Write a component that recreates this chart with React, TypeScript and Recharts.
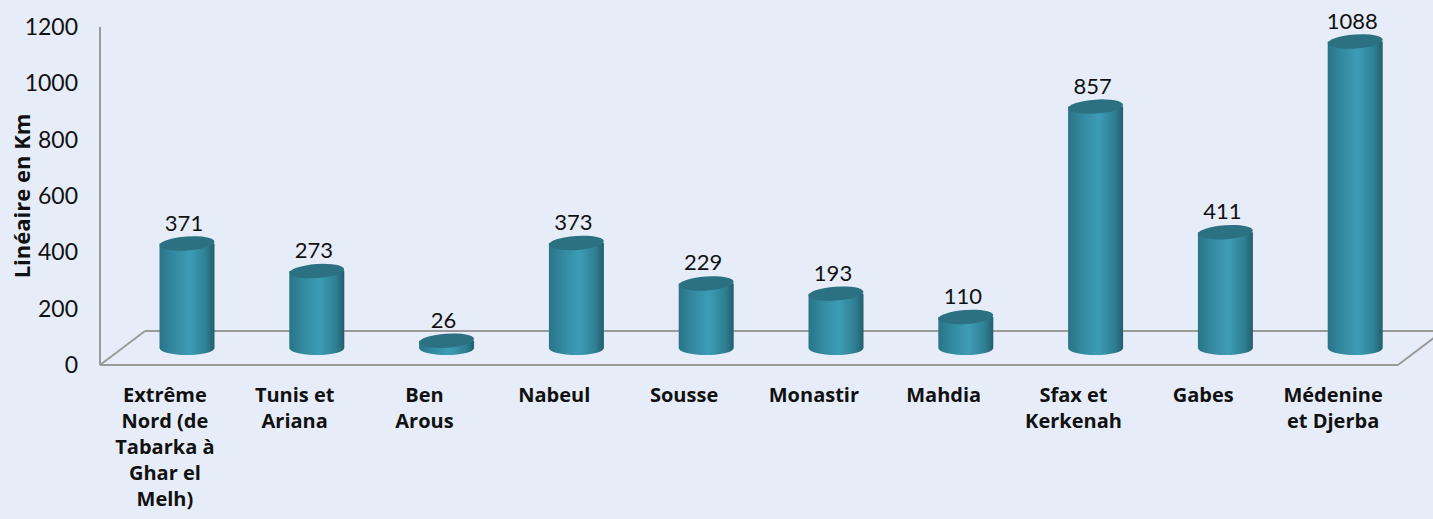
import { BarChart, Bar, XAxis, YAxis, LabelList } from "recharts";

const categories = [
  "Extrême\nNord (de\nTabarka à\nGhar el\nMelh)",
  "Tunis et\nAriana",
  "Ben\nArous",
  "Nabeul",
  "Sousse",
  "Monastir",
  "Mahdia",
  "Sfax et\nKerkenah",
  "Gabes",
  "Médenine\net Djerba",
];
const lineaire = [371, 273, 26, 373, 229, 193, 110, 857, 411, 1088];
const yTicks = [0, 200, 400, 600, 800, 1000, 1200];

const data = categories.map((name, i) => ({ name, value: lineaire[i] }));

const W = 1433;
const H = 519;
const M = { top: 27, right: 35, left: 0, bottom: 4 };
const Y_W = 100;
const X_H = 150;
const PLOT_L = M.left + Y_W;
const PLOT_R = W - M.right;
const PLOT_B = H - M.bottom - X_H;
const DEPTH_X = 45;
const DEPTH_Y = 34;
const FONT = "Lato, 'Open Sans', sans-serif";
const BOLD_FONT = "'Open Sans', Lato, sans-serif";

// bars stand halfway into the floor
const SHIFT_X = DEPTH_X / 2;
const SHIFT_Y = DEPTH_Y / 2;

function Cylinder(props: any) {
  const { x, y, width, height, index } = props;
  const rx = width / 2;
  const ry = 7;
  const cx = x + rx + SHIFT_X;
  const top = y - SHIFT_Y;
  const base = y + height - SHIFT_Y;
  const l = cx - rx;
  const r = cx + rx;
  const id = `cyl-${index}`;
  return (
    <g>
      <defs>
        <linearGradient id={id} x1="0" x2="1" y1="0" y2="0">
          <stop offset="0%" stopColor="#2a7487" />
          <stop offset="25%" stopColor="#3289a0" />
          <stop offset="55%" stopColor="#3d9db6" />
          <stop offset="85%" stopColor="#2e7e92" />
          <stop offset="100%" stopColor="#235e6d" />
        </linearGradient>
      </defs>
      <path
        d={`M${l},${top} L${l},${base} A${rx},${ry} 0 0 0 ${r},${base} L${r},${top} Z`}
        fill={`url(#${id})`}
      />
      <ellipse cx={cx} cy={top} rx={rx} ry={ry} fill="#2b7182" transform={`rotate(-4 ${cx} ${top})`} />
    </g>
  );
}

function ValueLabel(props: any) {
  const { x, y, width, value } = props;
  return (
    <text
      x={x + width / 2 + SHIFT_X - 3}
      y={y - SHIFT_Y - 13}
      textAnchor="middle"
      fontFamily={FONT}
      fontSize={22}
      fill="#111"
    >
      {value}
    </text>
  );
}

function CategoryTick(props: any) {
  const { x, y, payload } = props;
  const lines = String(payload.value).split("\n");
  return (
    <text x={x} y={y} textAnchor="middle" fontFamily={BOLD_FONT} fontSize={20} fontWeight="bold" fill="#111">
      {lines.map((t, i) => (
        <tspan key={i} x={x} dy={i === 0 ? 0 : 26}>
          {t}
        </tspan>
      ))}
    </text>
  );
}

function Floor() {
  const backY = PLOT_B - DEPTH_Y;
  return (
    <svg width={W} height={H} style={{ position: "absolute", left: 0, top: 0 }}>
      <g stroke="#9a9a9a" strokeWidth={2} fill="none">
        <line x1={PLOT_L} y1={M.top} x2={PLOT_L} y2={PLOT_B} />
        <line x1={PLOT_L} y1={PLOT_B} x2={PLOT_R} y2={PLOT_B} />
        <line x1={PLOT_L} y1={PLOT_B} x2={PLOT_L + DEPTH_X} y2={backY} />
        <line x1={PLOT_L + DEPTH_X} y1={backY} x2={PLOT_R + DEPTH_X} y2={backY} />
        <line x1={PLOT_R} y1={PLOT_B} x2={PLOT_R + DEPTH_X} y2={backY} />
      </g>
    </svg>
  );
}

export default function App() {
  return (
    <div
      style={{
        position: "absolute",
        left: 0,
        top: 0,
        width: W,
        height: H,
        background: "#e7edf8",
        overflow: "hidden",
      }}
    >
      <Floor />
      <div style={{ position: "absolute", left: 0, top: 0 }}>
        <BarChart width={W} height={H} data={data} margin={M} barSize={55}>
          <XAxis
            dataKey="name"
            interval={0}
            height={X_H}
            axisLine={false}
            tickLine={false}
            tickSize={0}
            tickMargin={37}
            tick={<CategoryTick />}
          />
          <YAxis
            width={Y_W}
            domain={[0, 1200]}
            ticks={yTicks}
            axisLine={false}
            tickLine={false}
            tickSize={0}
            tickMargin={22}
            tick={{ fontFamily: FONT, fontSize: 23, fill: "#111" }}
            label={{
              value: "Linéaire en Km",
              angle: -90,
              position: "insideLeft",
              offset: 22,
              style: { fontFamily: BOLD_FONT, fontSize: 22, fontWeight: "bold", fill: "#111", textAnchor: "middle" },
            }}
          />
          <Bar dataKey="value" shape={<Cylinder />} isAnimationActive={false}>
            <LabelList dataKey="value" content={<ValueLabel />} />
          </Bar>
        </BarChart>
      </div>
    </div>
  );
}
